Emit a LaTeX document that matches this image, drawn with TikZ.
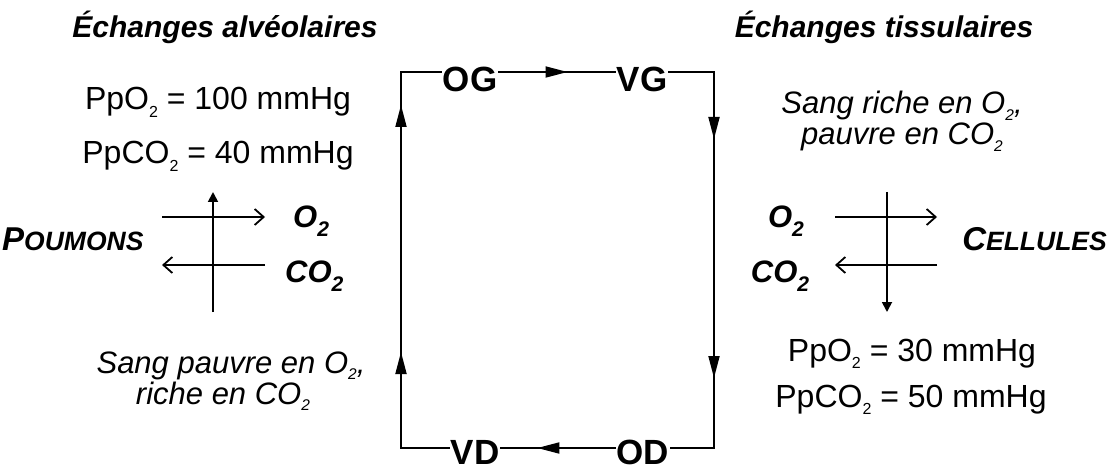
\documentclass[tikz,border=0pt]{standalone}
\usepackage{fontspec}
\setmainfont{Liberation Sans}
\usetikzlibrary{arrows.meta,decorations.markings}
\newcommand\sbs[1]{\raisebox{-0.22em}{\scalebox{0.5}{#1}}}
\newcommand\sbg[1]{\raisebox{-0.3em}{\scalebox{0.68}{#1}}}
\tikzset{looptip/.tip={Triangle[length=22pt,width=11pt]}}
\begin{document}
\begin{tikzpicture}[x=1pt,y=-1pt,
  txt/.style={font=\fontsize{32}{36}\selectfont, anchor=base, inner sep=0pt},
  ittxt/.style={font=\fontsize{31}{36}\selectfont\itshape, anchor=base, inner sep=0pt},
  ttl/.style={font=\fontsize{30}{36}\selectfont\bfseries\itshape, anchor=base, inner sep=0pt},
  gas/.style={font=\fontsize{31}{36}\selectfont\bfseries\itshape, anchor=base, inner sep=0pt},
  chamber/.style={font=\fontsize{35}{40}\selectfont\bfseries, anchor=base, inner xsep=1pt, inner ysep=0pt},
  loopline/.style={line width=1.8pt, line cap=rect},
  xarr/.style={line width=1.8pt, -{Straight Barb[length=9pt,width=16pt]}},
  varr/.style={line width=1.8pt, -{Triangle[length=10pt,width=10pt]}},
]
\useasboundingbox (0,0) rectangle (1112,468);

% corners of the circulation loop
\coordinate (tl) at (401,72);
\coordinate (tr) at (714,72);
\coordinate (br) at (714,448);
\coordinate (bl) at (401,448);

% chambers
\node[chamber] (OG) at (470,92) {OG};
\node[chamber] (VG) at (642,92) {VG};
\node[chamber] (VD) at (475,464) {VD};
\node[chamber] (OD) at (643,464) {OD};

% loop
\draw[loopline] (tl) -- (OG.west |- tl);
\draw[loopline, postaction={decorate}, decoration={markings, mark=at position 0.59 with {\arrow{looptip}}}]
  (OG.east |- tl) -- (VG.west |- tl);
\draw[loopline] (VG.east |- tr) -- (tr);
\draw[loopline, postaction={decorate}, decoration={markings, mark=at position 67pt with {\arrow{looptip}}, mark=at position 306pt with {\arrow{looptip}}}]
  (tr) -- (br);
\draw[loopline] (br) -- (OD.east |- br);
\draw[loopline, postaction={decorate}, decoration={markings, mark=at position 0.68 with {\arrow{looptip}}}]
  (OD.west |- br) -- (VD.east |- br);
\draw[loopline] (VD.west |- bl) -- (bl);
\draw[loopline, postaction={decorate}, decoration={markings, mark=at position 96pt with {\arrow{looptip}}, mark=at position 343pt with {\arrow{looptip}}}]
  (bl) -- (tl);

% titles
\node[ttl] (t1) at (225,38) {Échanges alvéolaires};
\node[ttl] (t2) at (884,38) {Échanges tissulaires};

% left texts
\node[txt] (pl1) at (218,110) {PpO\sbs{2} = 100 mmHg};
\node[txt] (pl2) at (218,164) {PpCO\sbs{2} = 40 mmHg};
\node[ittxt] (sl1) at (231,373) {Sang pauvre en O\sbs{2},};
\node[ittxt] (sl2) at (223,404) {riche en CO\sbs{2}};

% right texts
\node[ittxt] (sr1) at (902,114) {Sang riche en O\sbs{2},};
\node[ittxt] (sr2) at (902,145) {pauvre en CO\sbs{2}};
\node[txt] (pr1) at (912,361) {PpO\sbs{2} = 30 mmHg};
\node[txt] (pr2) at (911,407) {PpCO\sbs{2} = 50 mmHg};

% left exchange cross
\node[gas, anchor=base west] (poum) at (2,250) {\fontsize{33}{36}\selectfont P\fontsize{26.5}{30}\selectfont OUMONS};
\node[gas, anchor=base west] (lo2) at (293,227) {O\sbg{2}};
\node[gas, anchor=base west] (lco2) at (285,282) {CO\sbg{2}};
\coordinate (lvb) at (213,312);
\coordinate (lvt) at (213,192);
\coordinate (lh1a) at (162,217);
\coordinate (lh1b) at (265,217);
\coordinate (lh2a) at (265,265);
\coordinate (lh2b) at (162,265);
\draw[varr] (lvb) -- (lvt);
\draw[xarr] (lh1a) -- (lh1b);
\draw[xarr] (lh2a) -- (lh2b);

% right exchange cross
\node[gas, anchor=base east] (cell) at (1107,250) {\fontsize{33}{36}\selectfont C\fontsize{26.5}{30}\selectfont ELLULES};
\node[gas] (ro2) at (786,227) {O\sbg{2}};
\node[gas] (rco2) at (780,282) {CO\sbg{2}};
\coordinate (rvt) at (887,192);
\coordinate (rvb) at (887,312);
\coordinate (rh1a) at (835,217);
\coordinate (rh1b) at (937,217);
\coordinate (rh2a) at (937,265);
\coordinate (rh2b) at (835,265);
\draw[varr] (rvt) -- (rvb);
\draw[xarr] (rh1a) -- (rh1b);
\draw[xarr] (rh2a) -- (rh2b);
\end{tikzpicture}
\end{document}
